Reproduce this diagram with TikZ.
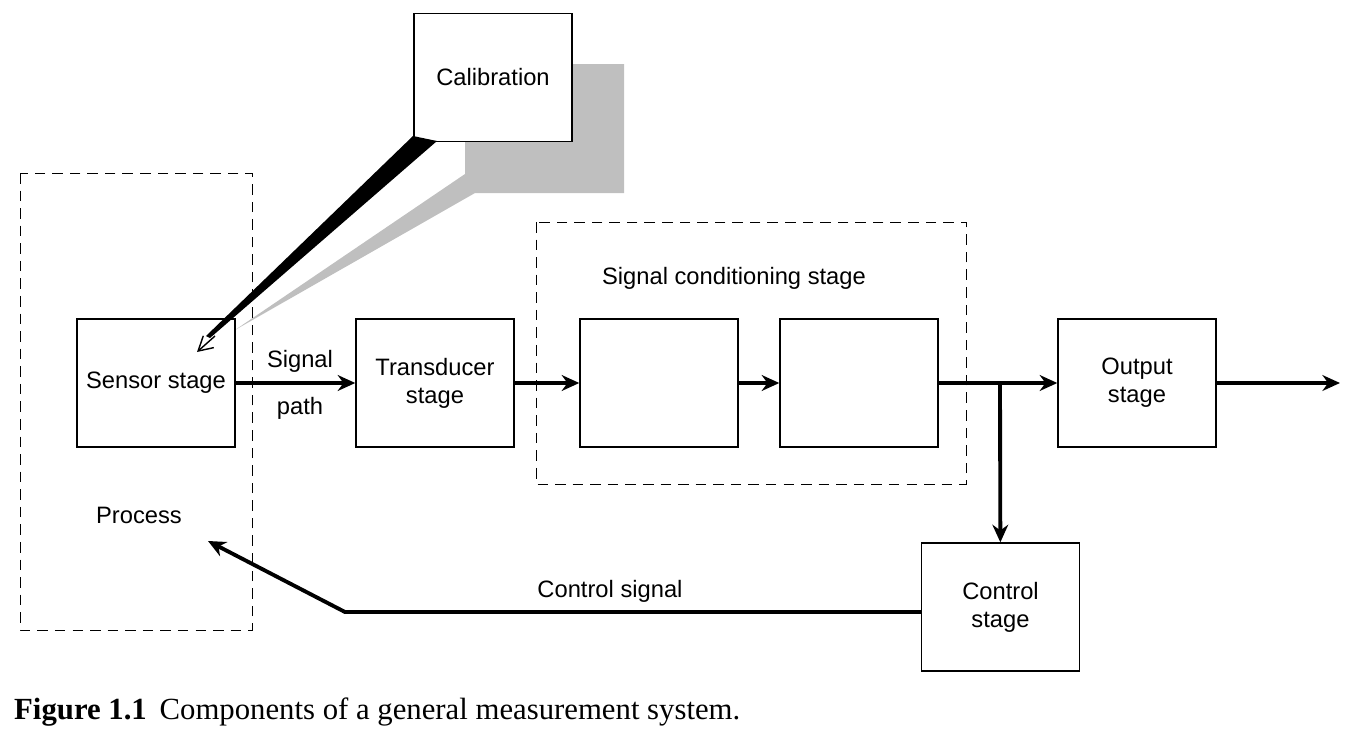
\documentclass[tikz,border=0pt]{standalone}
\usepackage{fontspec}
\setmainfont{Liberation Serif}
\newfontfamily\diagfont{Liberation Sans}
\usetikzlibrary{arrows.meta}
\tikzset{
  blk/.style={draw, thick, minimum width=3.16cm, minimum height=2.56cm, align=center, font=\diagfont\fontsize{13.5}{16}\selectfont},
  lbl/.style={font=\diagfont\fontsize{13.5}{16}\selectfont},
  stage/.style={draw, thin, dash pattern=on 6pt off 4pt},
  sig/.style={line width=2.2pt, -{Stealth[length=10pt,width=9pt]}},
}
\begin{document}
\begin{tikzpicture}[x=0.02cm,y=-0.02cm]
\useasboundingbox (0,0) rectangle (1350,734);
% dashed stages
\draw[stage] (20,173) rectangle (252,630);
\draw[stage] (536,222) rectangle (966,484);
% calibration shadow and wedges
\fill[gray!50] (572,64) -- (624,64) -- (624,193) -- (475,193) -- (235,330) -- (465,174) -- (465,141) -- (572,141) -- cycle;
\node[blk, fill=white] (cal) at (493,77.5) {Calibration};
\fill[black] (413,136) -- (437,141) -- (210,338) -- (206,336) -- cycle;
\coordinate (caltip) at (197,352);
\draw[thick, -{Straight Barb[length=8pt,width=9pt]}] (215,336) -- (caltip);
% blocks
\node[blk] (sensor) at (156,383) {Sensor stage};
\node[blk] (trans) at (435,383) {Transducer\\stage};
\node[blk] (cond1) at (659,383) {};
\node[blk] (cond2) at (859,383) {};
\node[blk] (out) at (1137,383) {Output\\stage};
\node[blk] (ctrl) at (1000.5,607) {Control\\stage};
% labels
\node[lbl] at (300,361) {Signal};
\node[lbl] at (300,408) {path};
\node[lbl] at (139,515) {Process};
\node[lbl] at (734,278) {Signal conditioning stage};
\node[lbl] at (610,591) {Control signal};
% signal path
\draw[sig] (sensor) -- (trans);
\draw[sig] (trans) -- (cond1);
\draw[sig] (cond1) -- (cond2);
\draw[sig] (cond2) -- (out);
\coordinate (end) at (1340,383);
\draw[sig] (out) -- (end);
\coordinate (br) at (1000,383);
\draw[sig] (br) -- (ctrl);
\coordinate (bend) at (345,612);
\coordinate (proc) at (208,541);
\draw[sig] (ctrl.west |- 0,612) -- (bend) -- (proc);
% caption
\node[anchor=west, font=\fontsize{17.5}{20}\selectfont] at (8,712) {\textbf{Figure 1.1}\, Components of a general measurement system.};
\end{tikzpicture}
\end{document}
